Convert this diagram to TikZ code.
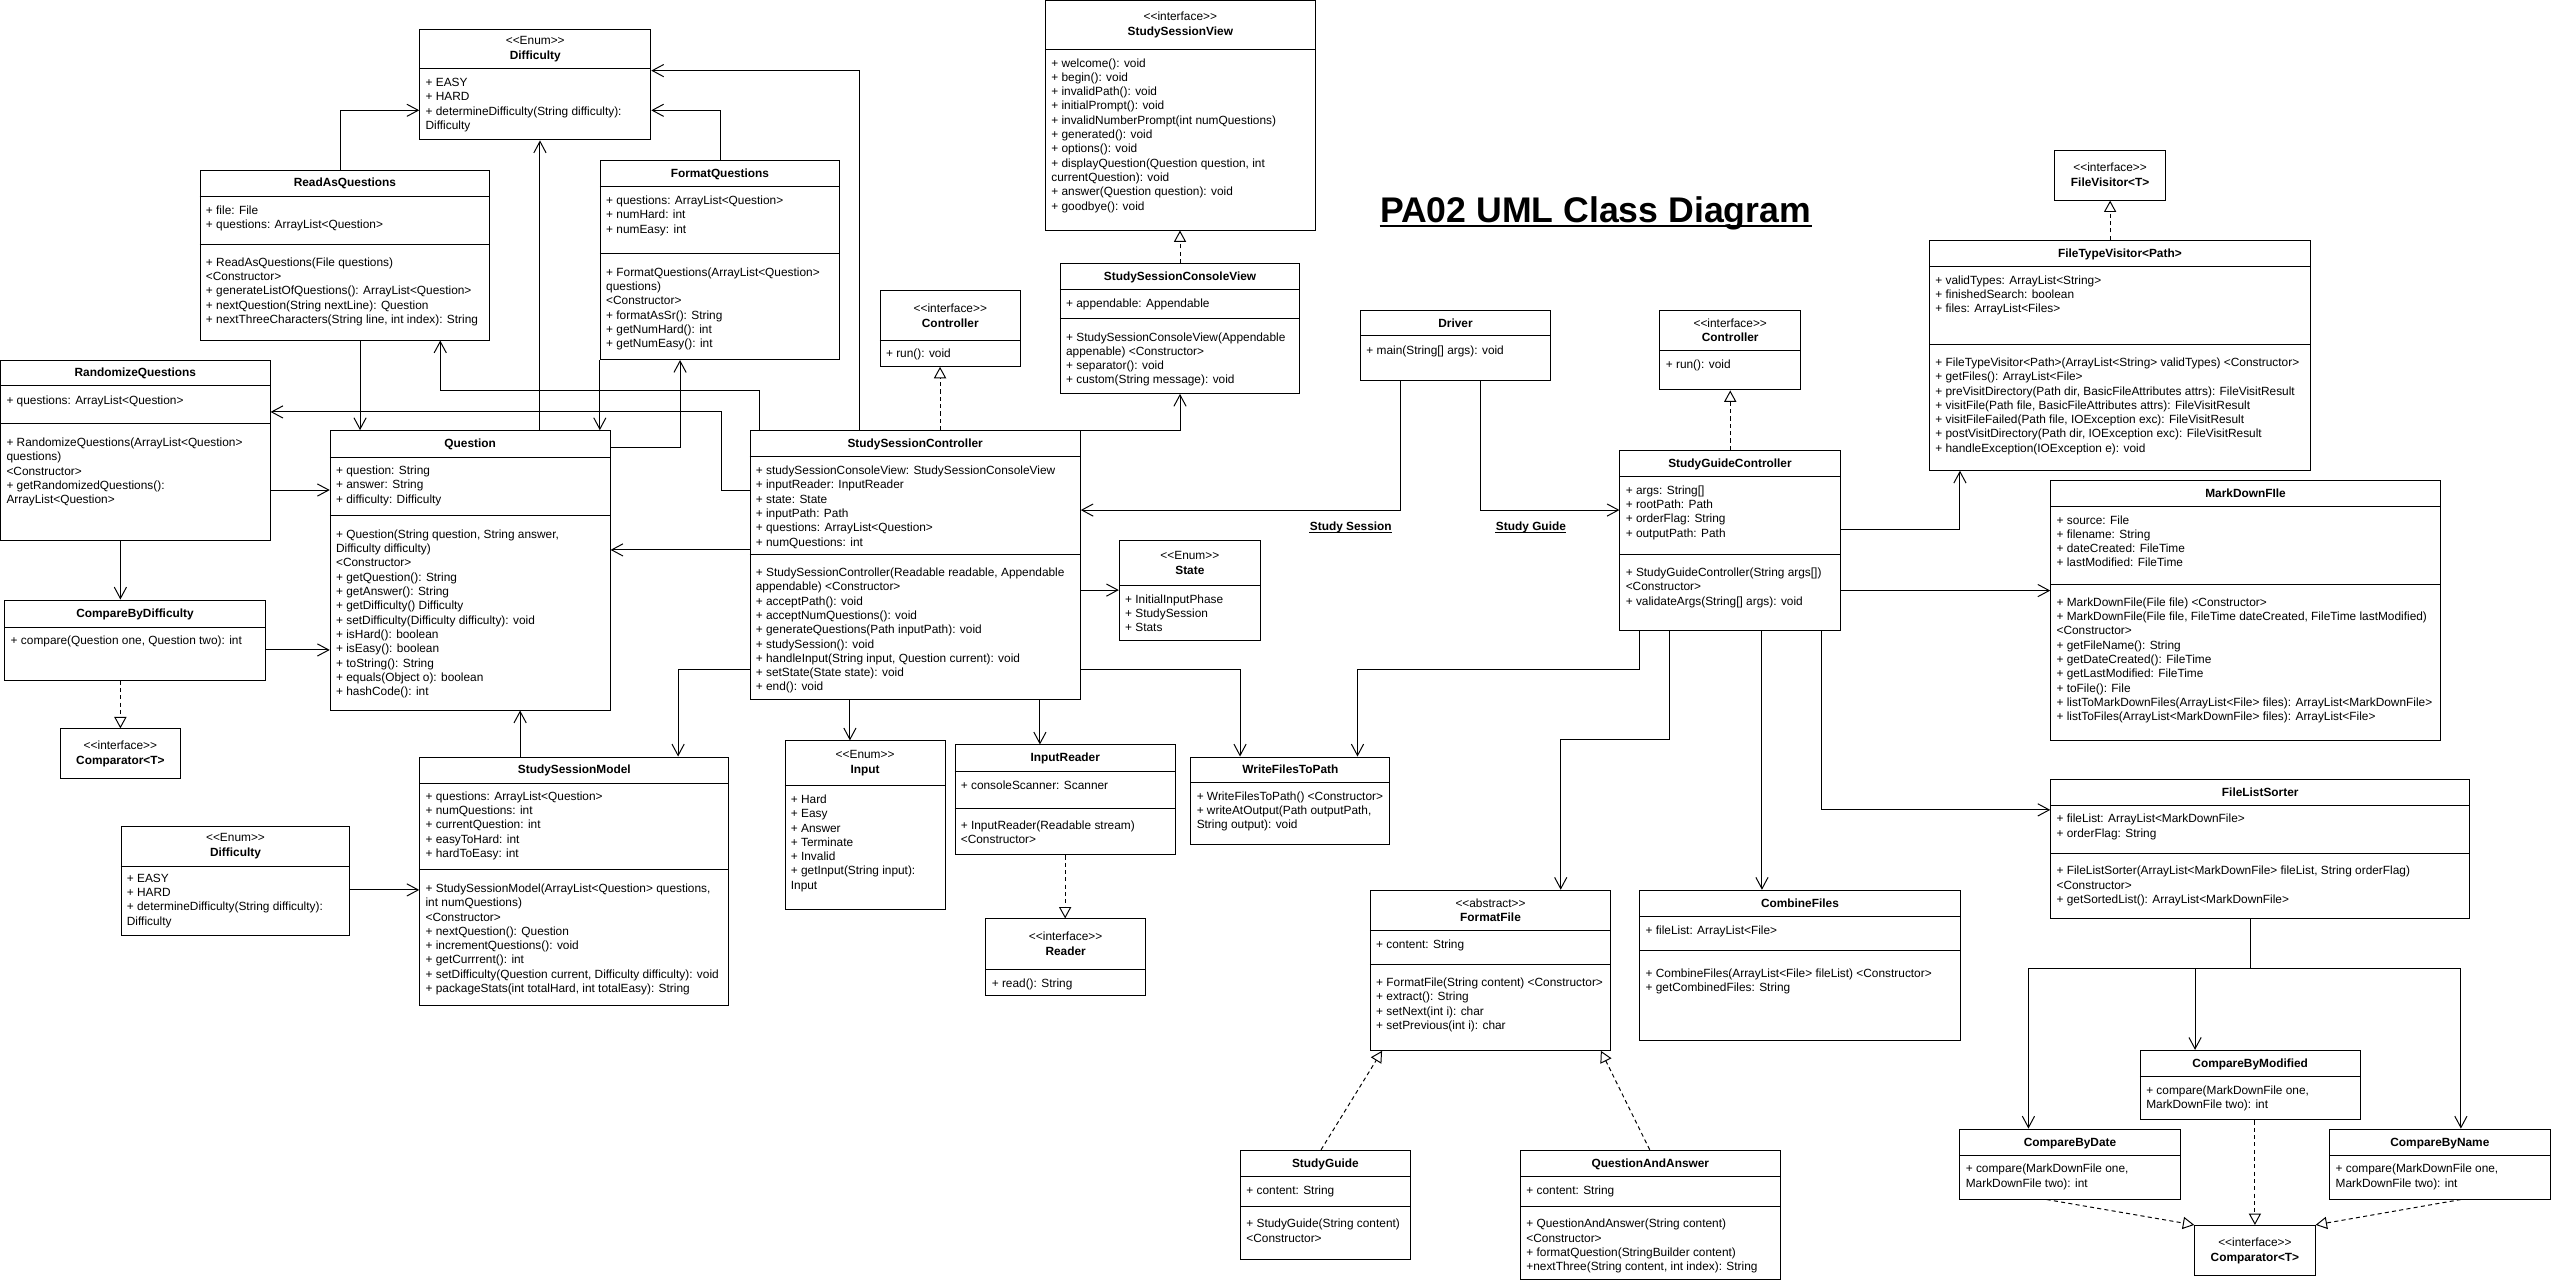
\documentclass[tikz,border=0pt]{standalone}
\usepackage{fontspec}
\setmainfont{Liberation Sans}
\usetikzlibrary{arrows.meta,fit}
\newcommand{\umlbox}[5]{\node[classbox, fit={(#2,#3) (#4,#5)}] (#1) {};}
\newcommand{\umlsep}[2]{\draw (#1.west |- 0,#2) -- (#1.east |- 0,#2);}
\newcommand{\umlname}[3]{\node[classname] at (#1.north |- 0,#2) {#3};}
\newcommand{\umlstereo}[4]{\node[stereo] at (#1.north |- 0,#2) {<{}<#3>{}>\\\textbf{#4}};}
\newcommand{\umlitems}[3]{\node[members] at (#1.west |- 0,#2) {\rule{0pt}{5.3pt}#3};}
\begin{document}
\begin{tikzpicture}[x=1pt, y=-1pt, line width=0.6pt,
	classbox/.style={draw, inner sep=0pt},
	classname/.style={font=\fontsize{7.3}{8.8}\selectfont\bfseries, inner sep=0pt, anchor=base, yshift=-2.4pt},
	stereo/.style={font=\fontsize{7.3}{9.2}\selectfont, align=center, inner sep=0pt},
	members/.style={font=\fontsize{7.3}{8.8}\selectfont, align=left, inner sep=0pt, anchor=north west, xshift=3.6pt, yshift=2.9pt},
	ulabel/.style={font=\fontsize{7.3}{8.8}\selectfont\bfseries, inner sep=0pt, anchor=base},
	assoc/.style={-{Straight Barb[length=7pt,width=7.5pt]}},
	realize/.style={dash pattern=on 2.5pt off 2pt, -{Triangle[open,length=7pt,width=7.5pt]}}]
	\useasboundingbox (0,0) rectangle (1568,789);
	% title
	\node[font=\fontsize{21.9}{26}\selectfont\bfseries, inner sep=0pt, anchor=base] (T) at (980.7,136.9) {PA02 UML Class Diagram};
	\draw[line width=1.2pt] ([yshift=-2pt]T.base west) -- ([yshift=-2pt]T.base east);
	% study session side
	\umlbox{DA}{258}{18.4}{400}{86}
	\umlsep{DA}{42.4}
	\umlstereo{DA}{30.4}{Enum}{Difficulty}
	\umlitems{DA}{50.4}{+ EASY\\+ HARD\\+ determineDifficulty(String difficulty):\\Difficulty}
	\umlbox{RAQ}{123}{104.5}{301}{209}
	\umlsep{RAQ}{120.5} \umlsep{RAQ}{150}
	\umlname{RAQ}{112.5}{ReadAsQuestions}
	\umlitems{RAQ}{129.1}{+ file: File\\+ questions: ArrayList<Question>}
	\umlitems{RAQ}{161}{+ ReadAsQuestions(File questions)\\<Constructor>\\+ generateListOfQuestions(): ArrayList<Question>\\+ nextQuestion(String nextLine): Question\\+ nextThreeCharacters(String line, int index): String}
	\umlbox{FQ}{369}{98.6}{516}{221}
	\umlsep{FQ}{114.5} \umlsep{FQ}{156}
	\umlname{FQ}{106.5}{FormatQuestions}
	\umlitems{FQ}{123}{+ questions: ArrayList<Question>\\+ numHard: int\\+ numEasy: int}
	\umlitems{FQ}{167}{+ FormatQuestions(ArrayList<Question>\\questions)\\<Constructor>\\+ formatAsSr(): String\\+ getNumHard(): int\\+ getNumEasy(): int}
	\umlbox{RQ}{0.4}{221.3}{166}{332}
	\umlsep{RQ}{237.2} \umlsep{RQ}{260.6}
	\umlname{RQ}{229.2}{RandomizeQuestions}
	\umlitems{RQ}{245.9}{+ questions: ArrayList<Question>}
	\umlitems{RQ}{271.7}{+ RandomizeQuestions(ArrayList<Question>\\questions)\\<Constructor>\\+ getRandomizedQuestions():\\ArrayList<Question>}
	\umlbox{Q}{203}{264.7}{375}{436.4}
	\umlsep{Q}{280.9} \umlsep{Q}{316.7}
	\umlname{Q}{272.8}{Question}
	\umlitems{Q}{288.9}{+ question: String\\+ answer: String\\+ difficulty: Difficulty}
	\umlitems{Q}{328.2}{+ Question(String question, String answer,\\Difficulty difficulty)\\<Constructor>\\+ getQuestion(): String\\+ getAnswer(): String\\+ getDifficulty() Difficulty\\+ setDifficulty(Difficulty difficulty): void\\+ isHard(): boolean\\+ isEasy(): boolean\\+ toString(): String\\+ equals(Object o): boolean\\+ hashCode(): int}
	\umlbox{CBD}{3}{368.8}{163}{418}
	\umlsep{CBD}{385.4}
	\umlname{CBD}{377.1}{CompareByDifficulty}
	\umlitems{CBD}{393.4}{+ compare(Question one, Question two): int}
	\umlbox{CPA}{37}{448}{111}{478.8}
	\umlstereo{CPA}{463.4}{interface}{Comparator<T>}
	\umlbox{SSM}{258}{465.3}{448}{618.3}
	\umlsep{SSM}{481.3} \umlsep{SSM}{534.7}
	\umlname{SSM}{473.3}{StudySessionModel}
	\umlitems{SSM}{489.2}{+ questions: ArrayList<Question>\\+ numQuestions: int\\+ currentQuestion: int\\+ easyToHard: int\\+ hardToEasy: int}
	\umlitems{SSM}{545.8}{+ StudySessionModel(ArrayList<Question> questions,\\int numQuestions)\\<Constructor>\\+ nextQuestion(): Question\\+ incrementQuestions(): void\\+ getCurrrent(): int\\+ setDifficulty(Question current, Difficulty difficulty): void\\+ packageStats(int totalHard, int totalEasy): String}
	\umlbox{DB}{74.4}{508.3}{215.1}{575.3}
	\umlsep{DB}{532.3}
	\umlstereo{DB}{520.3}{Enum}{Difficulty}
	\umlitems{DB}{539.6}{+ EASY\\+ HARD\\+ determineDifficulty(String difficulty):\\Difficulty}
	\umlbox{SSC}{461}{264.7}{664}{430.2}
	\umlsep{SSC}{280.3} \umlsep{SSC}{341}
	\umlname{SSC}{272.5}{StudySessionController}
	\umlitems{SSC}{289}{+ studySessionConsoleView: StudySessionConsoleView\\+ inputReader: InputReader\\+ state: State\\+ inputPath: Path\\+ questions: ArrayList<Question>\\+ numQuestions: int}
	\umlitems{SSC}{351.6}{+ StudySessionController(Readable readable, Appendable\\appendable) <Constructor>\\+ acceptPath(): void\\+ acceptNumQuestions(): void\\+ generateQuestions(Path inputPath): void\\+ studySession(): void\\+ handleInput(String input, Question current): void\\+ setState(State state): void\\+ end(): void}
	\umlbox{ST}{688}{332.3}{774.7}{393.4}
	\umlsep{ST}{359.6}
	\umlstereo{ST}{346}{Enum}{State}
	\umlitems{ST}{368}{+ InitialInputPhase\\+ StudySession\\+ Stats}
	\umlbox{IN}{482.5}{455.4}{581}{559.3}
	\umlsep{IN}{482.5}
	\umlstereo{IN}{469}{Enum}{Input}
	\umlitems{IN}{491.1}{+ Hard\\+ Easy\\+ Answer\\+ Terminate\\+ Invalid\\+ getInput(String input):\\Input}
	\umlbox{IR}{587}{457.9}{722.6}{525.5}
	\umlsep{IR}{473.9} \umlsep{IR}{497.2}
	\umlname{IR}{465.9}{InputReader}
	\umlitems{IR}{482.5}{+ consoleScanner: Scanner}
	\umlitems{IR}{507}{+ InputReader(Readable stream)\\<Constructor>}
	\umlbox{RD}{606}{564.8}{704}{611.6}
	\umlsep{RD}{595.6}
	\umlstereo{RD}{580.2}{interface}{Reader}
	\umlitems{RD}{604.2}{+ read(): String}
	\umlbox{WF}{732}{465.3}{854.3}{518.8}
	\umlsep{WF}{481.2}
	\umlname{WF}{473.3}{WriteFilesToPath}
	\umlitems{WF}{489.2}{+ WriteFilesToPath() <Constructor>\\+ writeAtOutput(Path outputPath,\\String output): void}
	\umlbox{SSV}{642.6}{0.6}{808.4}{141.4}
	\umlsep{SSV}{30.3}
	\umlstereo{SSV}{15.3}{interface}{StudySessionView}
	\umlitems{SSV}{38.5}{+ welcome(): void\\+ begin(): void\\+ invalidPath(): void\\+ initialPrompt(): void\\+ invalidNumberPrompt(int numQuestions)\\+ generated(): void\\+ options(): void\\+ displayQuestion(Question question, int\\currentQuestion): void\\+ answer(Question question): void\\+ goodbye(): void}
	\umlbox{SSCV}{651.7}{161.9}{799}{241.8}
	\umlsep{SSCV}{177.8} \umlsep{SSCV}{196}
	\umlname{SSCV}{170}{StudySessionConsoleView}
	\umlitems{SSCV}{186.2}{+ appendable: Appendable}
	\umlitems{SSCV}{206.9}{+ StudySessionConsoleView(Appendable\\appenable) <Constructor>\\+ separator(): void\\+ custom(String message): void}
	\umlbox{CTA}{541}{178.4}{627.2}{225.2}
	\umlsep{CTA}{209.2}
	\umlstereo{CTA}{193.8}{interface}{Controller}
	\umlitems{CTA}{217.2}{+ run(): void}
	% driver
	\umlbox{DR}{836.3}{190.6}{953}{233.6}
	\umlsep{DR}{206.5}
	\umlname{DR}{198.6}{Driver}
	\umlitems{DR}{215}{+ main(String[] args): void}
	\node[ulabel] (LSS) at (830.3,326.1) {Study Session};
	\node[ulabel] (LSG) at (941,326.1) {Study Guide};
	\draw ([yshift=-1.2pt]LSS.base west) -- ([yshift=-1.2pt]LSS.base east);
	\draw ([yshift=-1.2pt]LSG.base west) -- ([yshift=-1.2pt]LSG.base east);
	% study guide side
	\umlbox{CTB}{1020.3}{190.6}{1106.7}{239.7}
	\umlsep{CTB}{215.3}
	\umlstereo{CTB}{203}{interface}{Controller}
	\umlitems{CTB}{223.6}{+ run(): void}
	\umlbox{SGC}{995.7}{276.8}{1131}{387.4}
	\umlsep{SGC}{292.6} \umlsep{SGC}{341}
	\umlname{SGC}{284.7}{StudyGuideController}
	\umlitems{SGC}{301}{+ args: String[]\\+ rootPath: Path\\+ orderFlag: String\\+ outputPath: Path}
	\umlitems{SGC}{351.6}{+ StudyGuideController(String args[])\\<Constructor>\\+ validateArgs(String[] args): void}
	\umlbox{FV}{1263}{92.4}{1331}{123}
	\umlstereo{FV}{107.7}{interface}{FileVisitor<T>}
	\umlbox{FTV}{1186}{147.7}{1420}{289}
	\umlsep{FTV}{163.8} \umlsep{FTV}{211.5}
	\umlname{FTV}{155.8}{FileTypeVisitor<Path>}
	\umlitems{FTV}{172}{+ validTypes: ArrayList<String>\\+ finishedSearch: boolean\\+ files: ArrayList<Files>}
	\umlitems{FTV}{222.5}{+ FileTypeVisitor<Path>(ArrayList<String> validTypes) <Constructor>\\+ getFiles(): ArrayList<File>\\+ preVisitDirectory(Path dir, BasicFileAttributes attrs): FileVisitResult\\+ visitFile(Path file, BasicFileAttributes attrs): FileVisitResult\\+ visitFileFailed(Path file, IOException exc): FileVisitResult\\+ postVisitDirectory(Path dir, IOException exc): FileVisitResult\\+ handleException(IOException e): void}
	\umlbox{MDF}{1260.5}{295.5}{1500}{455}
	\umlsep{MDF}{311.4} \umlsep{MDF}{359.2}
	\umlname{MDF}{303.5}{MarkDownFIle}
	\umlitems{MDF}{319.4}{+ source: File\\+ filename: String\\+ dateCreated: FileTime\\+ lastModified: FileTime}
	\umlitems{MDF}{369.9}{+ MarkDownFile(File file) <Constructor>\\+ MarkDownFile(File file, FileTime dateCreated, FileTime lastModified)\\<Constructor>\\+ getFileName(): String\\+ getDateCreated(): FileTime\\+ getLastModified: FileTime\\+ toFile(): File\\+ listToMarkDownFiles(ArrayList<File> files): ArrayList<MarkDownFile>\\+ listToFiles(ArrayList<MarkDownFile> files): ArrayList<File>}
	\umlbox{FLS}{1260.5}{479}{1518}{564.8}
	\umlsep{FLS}{495} \umlsep{FLS}{524.3}
	\umlname{FLS}{487}{FileListSorter}
	\umlitems{FLS}{503}{+ fileList: ArrayList<MarkDownFile>\\+ orderFlag: String}
	\umlitems{FLS}{535}{+ FileListSorter(ArrayList<MarkDownFile> fileList, String orderFlag)\\<Constructor>\\+ getSortedList(): ArrayList<MarkDownFile>}
	\umlbox{CBM}{1315.6}{645.6}{1450.6}{688.4}
	\umlsep{CBM}{661.6}
	\umlname{CBM}{653.6}{CompareByModified}
	\umlitems{CBM}{669.9}{+ compare(MarkDownFile one,\\MarkDownFile two): int}
	\umlbox{CBDT}{1204.7}{694}{1340}{737}
	\umlsep{CBDT}{710}
	\umlname{CBDT}{702}{CompareByDate}
	\umlitems{CBDT}{718.2}{+ compare(MarkDownFile one,\\MarkDownFile two): int}
	\umlbox{CBN}{1432}{694}{1567.4}{737}
	\umlsep{CBN}{710}
	\umlname{CBN}{702}{CompareByName}
	\umlitems{CBN}{718.2}{+ compare(MarkDownFile one,\\MarkDownFile two): int}
	\umlbox{CPB}{1349}{753.2}{1423}{784}
	\umlstereo{CPB}{768.6}{interface}{Comparator<T>}
	\umlbox{FF}{842.3}{547.2}{990}{645.6}
	\umlsep{FF}{571.8} \umlsep{FF}{592.7}
	\umlstereo{FF}{559.5}{abstract}{FormatFile}
	\umlitems{FF}{580}{+ content: String}
	\umlitems{FF}{603.6}{+ FormatFile(String content) <Constructor>\\+ extract(): String\\+ setNext(int i): char\\+ setPrevious(int i): char}
	\umlbox{CF}{1007.9}{547.2}{1204.8}{639.4}
	\umlsep{CF}{563.2} \umlsep{CF}{584}
	\umlname{CF}{555.2}{CombineFiles}
	\umlitems{CF}{571.4}{+ fileList: ArrayList<File>}
	\umlitems{CF}{598.2}{+ CombineFiles(ArrayList<File> fileList) <Constructor>\\+ getCombinedFiles: String}
	\umlbox{SG}{762.5}{707}{866.8}{774.4}
	\umlsep{SG}{723} \umlsep{SG}{741.4}
	\umlname{SG}{715}{StudyGuide}
	\umlitems{SG}{731.4}{+ content: String}
	\umlitems{SG}{751.9}{+ StudyGuide(String content)\\<Constructor>}
	\umlbox{QA}{934.6}{707}{1094.2}{786.7}
	\umlsep{QA}{723} \umlsep{QA}{741.4}
	\umlname{QA}{715}{QuestionAndAnswer}
	\umlitems{QA}{731.4}{+ content: String}
	\umlitems{QA}{751.9}{+ QuestionAndAnswer(String content)\\<Constructor>\\+ formatQuestion(StringBuilder content)\\+nextThree(String content, int index): String}
	% connectors, study session
	\draw[assoc] (209.2,0 |- RAQ.north) |- (DA.west |- 0,67.8);
	\draw[assoc] (442.7,0 |- FQ.north) |- (DA.east |- 0,67.8);
	\draw[assoc] (331.9,0 |- Q.north) -- (331.9,0 |- DA.south);
	\draw[assoc] (528.5,0 |- SSC.north) |- (DA.east |- 0,43.4);
	\draw[assoc] (221.3,0 |- RAQ.south) -- (221.3,0 |- Q.north);
	\draw[assoc] (FQ.south west) -- (FQ.south west |- Q.north);
	\draw[assoc] (Q.east |- 0,274.8) -| (418,0 |- FQ.south);
	\draw[assoc] (466.6,0 |- SSC.north) -- (466.6,240.3) -| (270.6,0 |- RAQ.south);
	\draw[assoc] (SSC.west |- 0,301.2) -| (443.3,253.2) -- (RQ.east |- 0,253.2);
	\draw[assoc] (SSC.west |- 0,338) -- (Q.east |- 0,338);
	\draw[assoc] (RQ.east |- 0,301.2) -- (Q.west |- 0,301.2);
	\draw[assoc] (74,0 |- RQ.south) -- (74,0 |- CBD.north);
	\draw[assoc] (CBD.east |- 0,399.5) -- (Q.west |- 0,399.5);
	\draw[realize] (74,0 |- CBD.south) -- (CPA.north);
	\draw[assoc] (319.7,0 |- SSM.north) -- (319.7,0 |- Q.south);
	\draw[assoc] (DB.east |- 0,547) -- (SSM.west |- 0,547);
	\draw[assoc] (SSC.west |- 0,411.8) -| (416.8,0 |- SSM.north);
	\draw[assoc] (SSC.east |- 0,362.7) -- (ST.west |- 0,362.7);
	\draw[assoc] (522.4,0 |- SSC.south) -- (522.4,0 |- IN.north);
	\draw[assoc] (639.2,0 |- SSC.south) -- (639.2,0 |- IR.north);
	\draw[realize] (654.7,0 |- IR.south) -- (654.7,0 |- RD.north);
	\draw[assoc] (SSC.east |- 0,411.8) -| (762.2,0 |- WF.north);
	\draw[assoc] (SSC.north east) -| (725.3,0 |- SSCV.south);
	\draw[realize] (725.3,0 |- SSCV.north) -- (725.3,0 |- SSV.south);
	\draw[realize] (577.8,0 |- SSC.north) -- (577.8,0 |- CTA.south);
	\draw[assoc] (861,0 |- DR.south) |- (SSC.east |- 0,313.5);
	\draw[assoc] (910,0 |- DR.south) |- (SGC.west |- 0,313.5);
	% connectors, study guide
	\draw[realize] (SGC.north -| CTB.south) -- (CTB.south);
	\draw[realize] (FTV.north -| FV.south) -- (FV.south);
	\draw[assoc] (SGC.east |- 0,325.5) -| (1204.7,0 |- FTV.south);
	\draw[assoc] (SGC.east |- 0,363) -- (MDF.west |- 0,363);
	\draw[assoc] (1008,0 |- SGC.south) |- (834.4,411.8) -- (834.4,0 |- WF.north);
	\draw[assoc] (1026.4,0 |- SGC.south) |- (959.3,454.8) -- (959.3,0 |- FF.north);
	\draw[assoc] (1083,0 |- SGC.south) -- (1083,0 |- CF.north);
	\draw[assoc] (1119.3,0 |- SGC.south) |- (FLS.west |- 0,497.8);
	\draw[assoc] (1383,0 |- FLS.south) |- (1246.8,595.5) -- (1246.8,0 |- CBDT.north);
	\draw[assoc] (1383,0 |- FLS.south) |- (1349.2,595.5) -- (1349.2,0 |- CBM.north);
	\draw[assoc] (1383,0 |- FLS.south) |- (1512.6,595.5) -- (1512.6,0 |- CBN.north);
	\draw[realize] (1386,0 |- CBM.south) -- (CPB.north);
	\draw[realize] (1258,0 |- CBDT.south) -- (CPB.north west);
	\draw[realize] (1512.6,0 |- CBN.south) -- (CPB.north east);
	\draw[realize] (812,0 |- SG.north) -- (849.5,0 |- FF.south);
	\draw[realize] (1014,0 |- QA.north) -- (984,0 |- FF.south);
\end{tikzpicture}
\end{document}
